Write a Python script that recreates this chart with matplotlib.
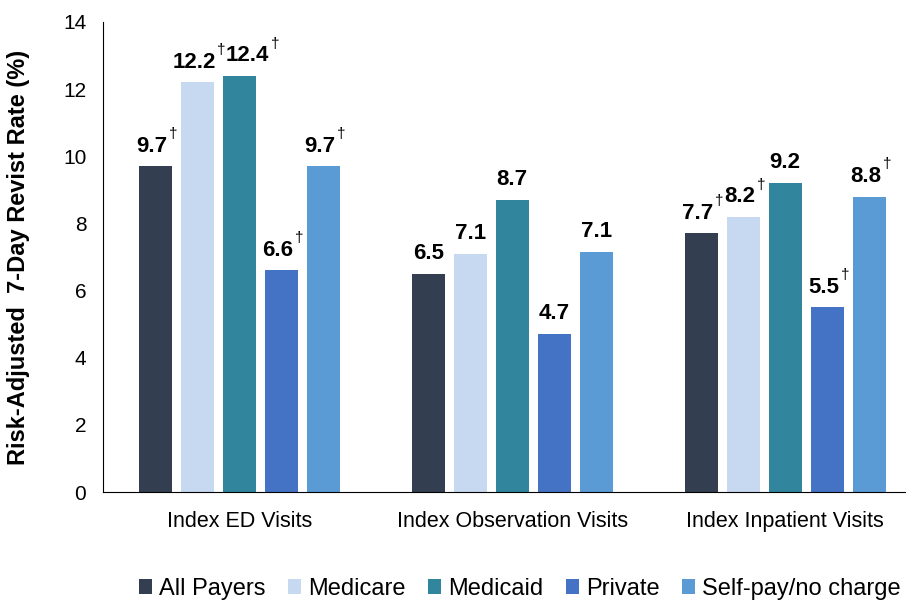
import matplotlib
matplotlib.use("Agg")
import matplotlib.pyplot as plt
import numpy as np

# data
groups = ["Index ED Visits", "Index Observation Visits", "Index Inpatient Visits"]
payers = ["All Payers", "Medicare", "Medicaid", "Private", "Self-pay/no charge"]
colors = ["#333f50", "#c6d9f1", "#31859c", "#4472c4", "#5b9bd5"]

all_payers = [9.7, 6.5, 7.7]
medicare = [12.2, 7.1, 8.2]
medicaid = [12.4, 8.7, 9.2]
private = [6.6, 4.7, 5.5]
self_pay = [9.7, 7.15, 8.8]

# printed labels ("+" = dagger, significant difference)
all_payers_lbl = ["9.7+", "6.5", "7.7+"]
medicare_lbl = ["12.2+", "7.1", "8.2+"]
medicaid_lbl = ["12.4+", "8.7", "9.2"]
private_lbl = ["6.6+", "4.7", "5.5+"]
self_pay_lbl = ["9.7+", "7.1", "8.8+"]

series = [all_payers, medicare, medicaid, private, self_pay]
labels = [all_payers_lbl, medicare_lbl, medicaid_lbl, private_lbl, self_pay_lbl]

plt.rcParams['font.family'] = ['Liberation Sans', 'DejaVu Sans']

fig = plt.figure(figsize=(9.06, 6.02), dpi=100)
ax = fig.add_axes([0.1137, 0.1827, 0.8863, 0.7808])

x = np.arange(len(groups))
step = 0.154
width = 0.121

for i, (vals, lbls) in enumerate(zip(series, labels)):
    pos = x + (i - 2) * step
    ax.bar(pos, vals, width, color=colors[i], label=payers[i])
    for j, (p, v, s) in enumerate(zip(pos, vals, lbls)):
        dagger = s.endswith("+")
        num = s.rstrip("+")
        dx = -2.5 if dagger else 0
        if i == 2 and j == 0:
            dx = 6  # nudged right in the original to clear 12.2
        t = ax.annotate(num, (p, v), xytext=(dx, 7), textcoords='offset points',
                        ha='center', va='bottom', fontsize=16, fontweight='bold')
        if dagger:
            ax.annotate("\u2020", (1, 1), xycoords=t, xytext=(1, 1),
                        textcoords='offset points', ha='left', va='center',
                        fontsize=11)

ax.set_xlim(-0.5, 2.443)
ax.set_ylim(0, 14)
ax.set_yticks(range(0, 15, 2))
ax.set_xticks(x)
ax.set_xticklabels(groups, fontsize=15.5)
ax.tick_params(axis='y', labelsize=15, length=0, pad=12)
ax.tick_params(axis='x', length=0, pad=14)
ax.spines['top'].set_visible(False)
ax.spines['right'].set_visible(False)
ax.set_ylabel("Risk-Adjusted  7-Day Revist Rate (%)", fontsize=17,
              fontweight='bold', labelpad=24)

ax.legend(loc='center', bbox_to_anchor=(0.519, -0.206), ncol=5, frameon=False,
          fontsize=17, handlelength=0.55, handleheight=0.55, handletextpad=0.3,
          columnspacing=0.95)

fig.savefig("out.png", dpi=100)
